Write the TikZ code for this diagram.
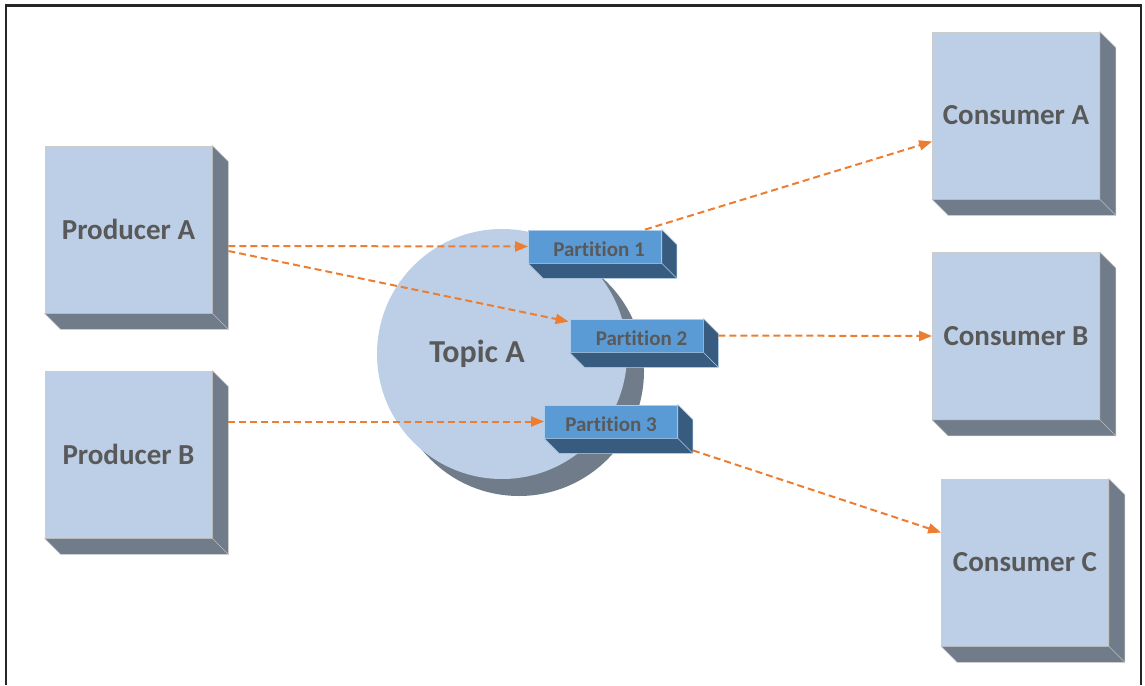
\documentclass[tikz,border=0pt]{standalone}
\usepackage{fontspec}
\setmainfont{Carlito}[Ligatures={NoCommon}]
\usetikzlibrary{arrows.meta,shadows}

\definecolor{boxblue}{HTML}{BCCFE7}
\definecolor{boxside}{HTML}{717C8A}
\definecolor{partblue}{HTML}{5B9BD5}
\definecolor{partside}{HTML}{375C80}
\definecolor{txtgray}{HTML}{595959}
\definecolor{flowcol}{HTML}{ED7D31}

\begin{document}
\begin{tikzpicture}[x=1pt,y=-1pt]
            \tikzstyle{box}=[rectangle, fill=boxblue, draw=black!20, line width=0.8pt, minimum width=167pt, minimum height=167pt, inner sep=0pt, font=\fontsize{29}{34}\selectfont\bfseries, text=txtgray]
            \tikzstyle{part}=[rectangle, fill=partblue, draw=partblue!50!white, line width=0.8pt, minimum width=133pt, minimum height=33pt, inner sep=0pt, text height=20pt, text depth=0pt, font=\fontsize{21}{25}\selectfont\bfseries, text=txtgray]
            \tikzstyle{topic}=[circle, fill=boxblue, minimum size=250pt, inner sep=0pt, drop shadow={shadow xshift=17pt, shadow yshift=-17pt, fill=boxside, opacity=1}]
            \tikzstyle{edge}=[flowcol, line width=2pt, dash pattern=on 7pt off 4pt, -{Triangle[length=13pt,width=10pt]}]

            \useasboundingbox (0,0) rectangle (1145,685);
            \draw[line width=2.5pt, black!85] (6,685) -- (6,5.5) -- (1141,5.5) -- (1141,685);

            \node[box] (pa) at (128.5,229.5) {Producer A};
            \node[box] (pb) at (128.5,454.5) {Producer B};
            \node[box] (ca) at (1016,115.5) {Consumer A};
            \node[box] (cb) at (1016,336) {Consumer B};
            \node[box] (cc) at (1025,562.5) {Consumer C};

            \foreach \n in {pa,pb,ca,cb,cc} {
              \filldraw[fill=boxside, draw=black!20, line width=0.6pt] (\n.north east) -- ([shift={(16,16)}]\n.north east) -- ([shift={(16,16)}]\n.south east) -- ([shift={(16,16)}]\n.south west) -- (\n.south west) -- (\n.south east) -- cycle;
              \draw[black!25, line width=0.6pt] (\n.south east) -- ([shift={(16,16)}]\n.south east);
            }

            \node[topic, label={[xshift=-25pt, font=\fontsize{32}{38}\selectfont\bfseries, text=txtgray]center:Topic A}] (t) at (502,354) {};

            \node[part] (p1) at (595,246.5) {\hspace{8pt}Partition 1};
            \node[part] (p2) at (636.5,335.5) {\hspace{10pt}Partition 2};
            \node[part] (p3) at (611,421.5) {Partition 3};

            \foreach \n in {p1,p2,p3} {
              \filldraw[fill=partside, draw=partblue!50!white, line width=0.6pt] (\n.north east) -- ([shift={(15,15)}]\n.north east) -- ([shift={(15,15)}]\n.south east) -- ([shift={(15,15)}]\n.south west) -- (\n.south west) -- (\n.south east) -- cycle;
              \draw[partblue!50!white, line width=0.6pt] (\n.south east) -- ([shift={(15,15)}]\n.south east);
            }

            \draw[edge] ([shift={(16,16.5)}]pa.east) -- (p1.west);
            \draw[edge] ([shift={(16,21.5)}]pa.east) -- ([shift={(-1,3)}]p2.north west);
            \draw[edge] ([xshift=16pt]pa.east |- p3.west) -- (p3.west);
            \draw[edge] ([shift={(50,0)}]p1.north) -- ([shift={(0,26)}]ca.west);
            \draw[edge] ([shift={(15,0)}]p2.east) -- (cb.west);
            \draw[edge] ([shift={(15,12)}]p3.south east) -- ([shift={(0,-30)}]cc.west);
        \end{tikzpicture}
\end{document}
